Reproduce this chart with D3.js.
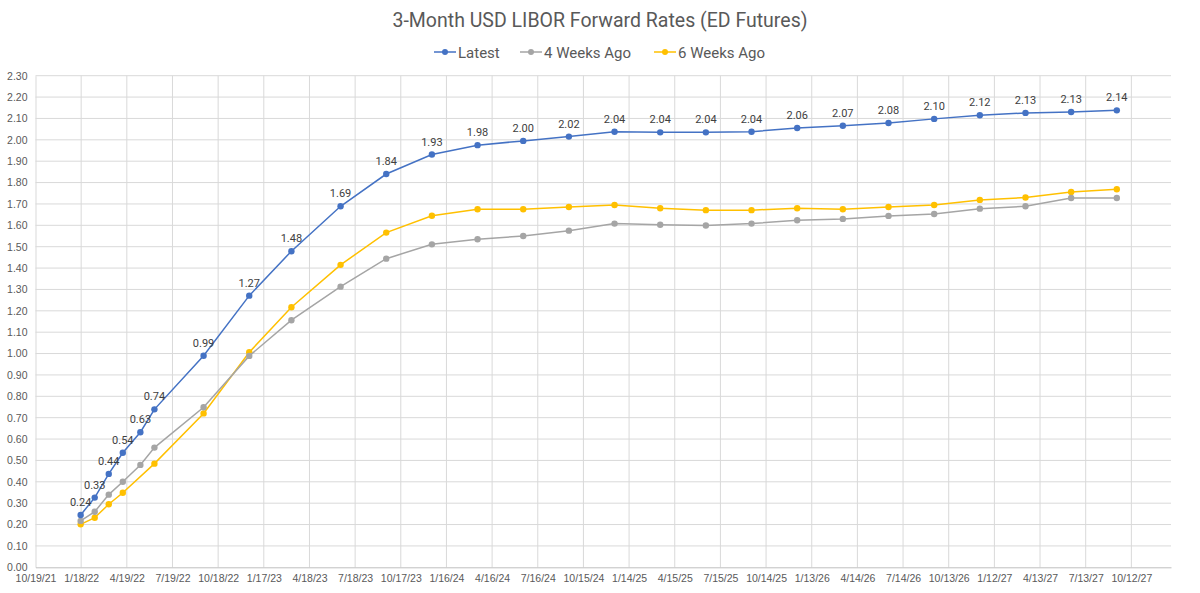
<!DOCTYPE html>
<html>
<head>
<meta charset="utf-8">
<script src="https://cdn.jsdelivr.net/npm/d3@7"></script>
<style>
  body { margin: 0; background: #fff; }
  svg { display: block; font-family: Roboto, "Noto Sans", sans-serif; }
</style>
</head>
<body>
<div id="chart"></div>
<script>
// contract dates (x) and rates per curve
var contractDates = ["2022-01-17","2022-02-14","2022-03-14","2022-04-11","2022-05-16","2022-06-13",
  "2022-09-19","2022-12-19","2023-03-13","2023-06-19","2023-09-18","2023-12-18",
  "2024-03-18","2024-06-17","2024-09-16","2024-12-16","2025-03-17","2025-06-16",
  "2025-09-15","2025-12-15","2026-03-16","2026-06-15","2026-09-14","2026-12-14",
  "2027-03-15","2027-06-14","2027-09-13"];
var latest = [0.245,0.326,0.437,0.536,0.632,0.739,0.99,1.271,1.479,1.689,1.84,1.931,
  1.975,1.995,2.015,2.038,2.035,2.035,2.038,2.055,2.066,2.079,2.098,2.115,2.126,2.13,2.138];
var weeks4 = [0.217,0.26,0.34,0.40,0.479,0.56,0.749,0.989,1.156,1.313,1.444,1.511,
  1.535,1.55,1.575,1.608,1.603,1.599,1.608,1.624,1.63,1.644,1.653,1.678,1.689,1.728,1.728];
var weeks6 = [0.201,0.232,0.295,0.349,null,0.485,0.72,1.006,1.217,1.415,1.566,1.645,
  1.675,1.675,1.686,1.695,1.68,1.671,1.671,1.68,1.675,1.686,1.695,1.719,1.73,1.756,1.769];
var seriesNames = ["Latest","4 Weeks Ago","6 Weeks Ago"];
var seriesColors = ["#4472C4","#A5A5A5","#FFC000"];
var xTickStart = "2021-10-19", xTickStepDays = 91, xTickCount = 25, xEnd = "2027-12-30";
var yMax = 2.3, yStep = 0.1;

var W = 1200, H = 593;
var margin = {top: 75.7, right: 29, bottom: 25.7, left: 35.5};
var parse = d3.timeParse("%Y-%m-%d");
var fmtTick = function(d){ return (d.getMonth()+1) + "/" + d.getDate() + "/" + String(d.getFullYear()).slice(2); };

var svg = d3.select("#chart").append("svg").attr("width", W).attr("height", H);

var x = d3.scaleTime()
  .domain([parse(xTickStart), parse(xEnd)])
  .range([margin.left, W - margin.right]);
var y = d3.scaleLinear().domain([0, yMax]).range([H - margin.bottom, margin.top]);

var xTicks = d3.range(xTickCount).map(function(i){ return d3.timeDay.offset(parse(xTickStart), i*xTickStepDays); });
var yTicks = d3.range(0, yMax + yStep/2, yStep);

// grid
svg.append("g").selectAll("line").data(yTicks.slice(1)).enter().append("line")
  .attr("x1", margin.left).attr("x2", W - margin.right)
  .attr("y1", function(d){ return y(d); }).attr("y2", function(d){ return y(d); })
  .attr("stroke", "#d9d9d9").attr("stroke-width", 1);
svg.append("g").selectAll("line").data(xTicks.slice(1)).enter().append("line")
  .attr("x1", function(d){ return x(d); }).attr("x2", function(d){ return x(d); })
  .attr("y1", margin.top).attr("y2", H - margin.bottom)
  .attr("stroke", "#d9d9d9").attr("stroke-width", 1);

// axes
var yAxis = svg.append("g").attr("transform", "translate(" + margin.left + ",0)")
  .call(d3.axisLeft(y).tickValues(yTicks).tickFormat(d3.format(".2f")).tickSize(0).tickPadding(8));
yAxis.select(".domain").attr("stroke", "#d9d9d9");
yAxis.selectAll("text").attr("fill", "#595959").style("font-size", "10.5px");

var xAxis = svg.append("g").attr("transform", "translate(0," + (H - margin.bottom) + ")")
  .call(d3.axisBottom(x).tickValues(xTicks).tickFormat(fmtTick).tickSize(0).tickPadding(7));
xAxis.select(".domain").attr("stroke", "#bfbfbf");
xAxis.selectAll("text").attr("fill", "#595959").style("font-size", "10.5px");

// series
var allSeries = [latest, weeks4, weeks6].map(function(vals, i){
  return {name: seriesNames[i], color: seriesColors[i],
    pts: vals.map(function(v, j){ return {date: parse(contractDates[j]), v: v}; })
             .filter(function(p){ return p.v !== null; })};
});

var line = d3.line().x(function(d){ return x(d.date); }).y(function(d){ return y(d.v); });

allSeries.slice().reverse().forEach(function(s){
  svg.append("path").datum(s.pts).attr("d", line)
    .attr("fill", "none").attr("stroke", s.color).attr("stroke-width", 1.5);
  svg.append("g").selectAll("circle").data(s.pts).enter().append("circle")
    .attr("cx", function(d){ return x(d.date); }).attr("cy", function(d){ return y(d.v); })
    .attr("r", 3.2).attr("fill", s.color);
});

// labels for latest only
svg.append("g").selectAll("text").data(allSeries[0].pts).enter().append("text")
  .attr("x", function(d){ return x(d.date); }).attr("y", function(d){ return y(d.v) - 9; })
  .attr("text-anchor", "middle").attr("fill", "#404040").style("font-size", "11px")
  .text(function(d){ return d3.format(".2f")(d.v); });

// title
svg.append("text").attr("x", 600).attr("y", 27).attr("text-anchor", "middle")
  .attr("fill", "#595959").style("font-size", "19.5px").text("3-Month USD LIBOR Forward Rates (ED Futures)");

// legend
var legendX = [434, 520, 654];
var leg = svg.append("g").selectAll("g").data(allSeries).enter().append("g")
  .attr("transform", function(d, i){ return "translate(" + legendX[i] + ",52)"; });
leg.append("line").attr("x1", 0).attr("x2", 22).attr("stroke", function(d){ return d.color; }).attr("stroke-width", 1.5);
leg.append("circle").attr("cx", 11).attr("r", 3).attr("fill", function(d){ return d.color; });
leg.append("text").attr("x", 24).attr("y", 5.5).attr("fill", "#595959").style("font-size", "15px")
  .text(function(d){ return d.name; });
</script>
</body>
</html>
